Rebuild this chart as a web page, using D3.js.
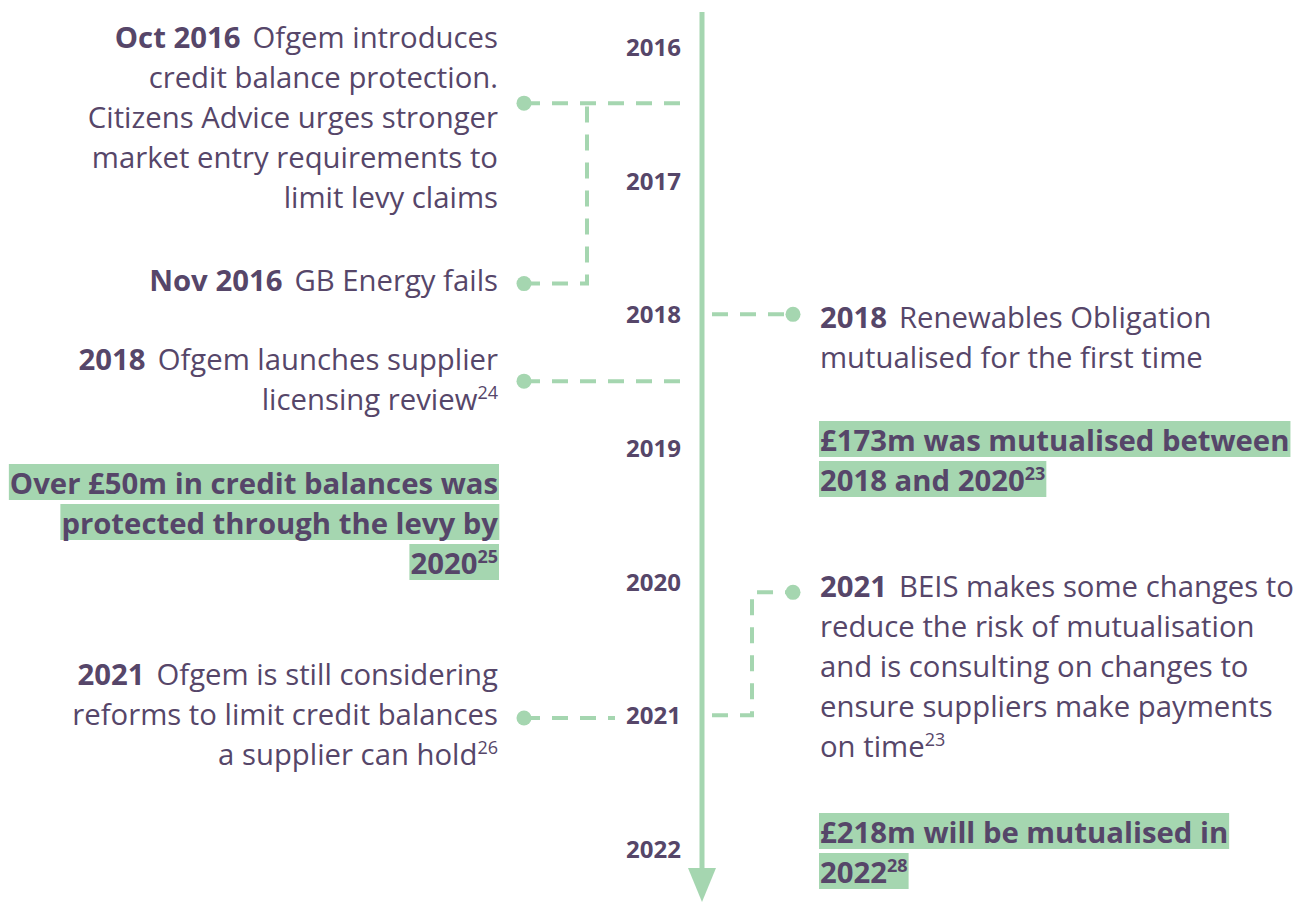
<!DOCTYPE html>
<html>
<head>
<meta charset="utf-8">
<script src="https://cdn.jsdelivr.net/npm/d3@7"></script>
<style>
  html, body { margin: 0; padding: 0; background: #fff; }
  svg { display: block; font-family: "Open Sans", sans-serif; }
</style>
</head>
<body>
<svg id="chart" width="1301" height="903"></svg>
<script>
// years on the axis
var years = [2016, 2017, 2018, 2019, 2020, 2021, 2022];

// events: date prefix, text lines, where the connector meets the axis (in years)
var eventDates = ["Oct 2016", "Nov 2016", "2018", "2021", "2018", "2021"];
var eventSides = ["left", "left", "left", "left", "right", "right"];
var eventLines = [
  ["Ofgem introduces", "credit balance protection.", "Citizens Advice urges stronger", "market entry requirements to", "limit levy claims"],
  ["GB Energy fails"],
  ["Ofgem launches supplier", "licensing review^24"],
  ["Ofgem is still considering", "reforms to limit credit balances", "a supplier can hold^26"],
  ["Renewables Obligation", "mutualised for the first time"],
  ["BEIS makes some changes to", "reduce the risk of mutualisation", "and is consulting on changes to", "ensure suppliers make payments", "on time^23"]
];
var eventAt = [2016.42, 2017.77, 2018.5, 2021.02, 2018.0, 2020.08];
var eventJoin = [null, 2016.42, null, null, null, 2021.0];

// highlighted key figures
var highlightSides = ["left", "right", "right"];
var highlightLines = [
  ["Over £50m in credit balances was", "protected through the levy by", "2020^25"],
  ["£173m was mutualised between", "2018 and 2020^23"],
  ["£218m will be mutualised in", "2022^28"]
];

(function() {
  "use strict";

  var green = "#a5d6b0",
    purple = "#564669",
    axisX = 702,
    lineH = 40,
    fontSize = 29.3;

  // pixel layout (first baseline of each block)
  var eventTextY = [48, 291, 370, 685, 328, 597],
    eventDotX = { left: 524, right: 793 },
    eventEndX = [686, null, 686, 615, 712, 712],
    eventElbowX = [null, 587, null, null, null, 752],
    highlightY = [494, 451, 843],
    textX = { left: 498, right: 820 };

  var svg = d3.select("#chart");
  var y = d3.scaleLinear().domain([2016, 2022]).range([47, 849]);

  // axis line and arrow
  svg.append("line")
    .attr("x1", axisX).attr("x2", axisX)
    .attr("y1", 12).attr("y2", 872)
    .attr("stroke", green).attr("stroke-width", 5);
  svg.append("path")
    .attr("d", "M" + (axisX - 14) + ",868L" + (axisX + 14) + ",868L" + axisX + ",902Z")
    .attr("fill", green);

  svg.selectAll(".year").data(years).enter().append("text")
    .attr("class", "year")
    .attr("x", 681)
    .attr("y", function(d) { return y(d) + 9; })
    .attr("text-anchor", "end")
    .attr("font-size", 24)
    .attr("font-weight", 700)
    .attr("fill", purple)
    .text(function(d) { return d; });

  // connectors
  var dash = "16,12";
  eventDates.forEach(function(date, i) {
    var side = eventSides[i],
      dotX = eventDotX[side],
      yy = y(eventAt[i]),
      pts;
    if (eventElbowX[i] !== null && eventJoin[i] !== null) {
      if (side === "left") {
        pts = [[dotX, yy], [eventElbowX[i], yy], [eventElbowX[i], y(eventJoin[i])]];
      } else {
        pts = [[eventEndX[i], y(eventJoin[i])], [eventElbowX[i], y(eventJoin[i])], [eventElbowX[i], yy], [dotX, yy]];
      }
    } else if (side === "left") {
      pts = [[dotX, yy], [eventEndX[i], yy]];
    } else {
      pts = [[eventEndX[i], yy], [dotX, yy]];
    }
    svg.append("path")
      .attr("d", d3.line()(pts))
      .attr("fill", "none")
      .attr("stroke", green)
      .attr("stroke-width", 4)
      .attr("stroke-dasharray", dash);
    svg.append("circle")
      .attr("cx", dotX).attr("cy", yy).attr("r", 7.5)
      .attr("fill", green);
  });

  function addLine(textEl, str, bold) {
    var parts = str.split("^");
    textEl.append("tspan")
      .attr("font-weight", bold ? 700 : 400)
      .text(parts[0]);
    if (parts.length > 1) {
      textEl.append("tspan")
        .attr("font-size", 18)
        .attr("font-weight", bold ? 700 : 400)
        .attr("dy", -11)
        .text(parts[1]);
    }
  }

  // event texts
  eventDates.forEach(function(date, i) {
    var side = eventSides[i];
    eventLines[i].forEach(function(line, j) {
      var t = svg.append("text")
        .attr("x", textX[side])
        .attr("y", eventTextY[i] + j * lineH)
        .attr("text-anchor", side === "left" ? "end" : "start")
        .attr("font-size", fontSize)
        .attr("fill", purple);
      if (j === 0) {
        t.append("tspan").attr("font-weight", 700).text(date);
        t.append("tspan").attr("dx", 12).text(line);
      } else {
        addLine(t, line, false);
      }
    });
  });

  // highlighted figures
  highlightLines.forEach(function(lines, i) {
    var side = highlightSides[i];
    var g = svg.append("g");
    lines.forEach(function(line, j) {
      var by = highlightY[i] + j * lineH;
      var rect = g.append("rect").attr("fill", green);
      var t = g.append("text")
        .attr("x", textX[side])
        .attr("y", by)
        .attr("text-anchor", side === "left" ? "end" : "start")
        .attr("font-size", fontSize)
        .attr("fill", purple);
      addLine(t, line, true);
      var bb = t.node().getBBox();
      rect.attr("x", bb.x - 1).attr("width", bb.width + 2)
        .attr("y", by - 30).attr("height", 36);
    });
  });
})();
</script>
</body>
</html>
